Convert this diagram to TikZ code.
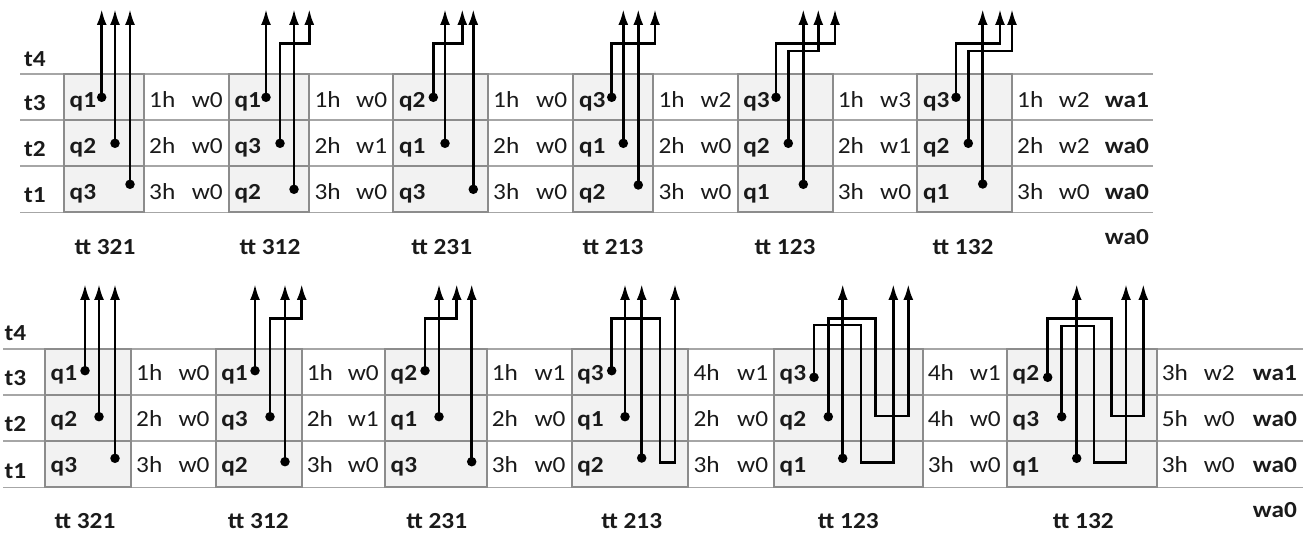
\documentclass[tikz,border=0pt]{standalone}
\usepackage{fontspec}
\setmainfont{Carlito}[FakeStretch=1.1]
\usetikzlibrary{arrows.meta}
\definecolor{boxfill}{HTML}{F2F2F2}
\definecolor{boxline}{HTML}{8C8C8C}
\definecolor{ruleline}{HTML}{A6A6A6}
\definecolor{txt}{HTML}{1A1A1A}
\newcommand\fs{\fontsize{23}{27}\selectfont}
% one box of three cells: name, left, width, top, q1, q2, q3, baseline offset
\newcommand\mkbox[8]{%
  \node[cell,minimum width=#3pt] (#1c1) at (#2,#4) {};
  \node[cell,minimum width=#3pt] (#1c2) at (#2,#4+46.1) {};
  \node[cell,minimum width=#3pt] (#1c3) at (#2,#4+92.2) {};
  \node[qlab] (#1q1) at (#2+5.5,#4+#8) {#5};
  \node[qlab] (#1q2) at (#2+5.5,#4+46.1+#8) {#6};
  \node[qlab] (#1q3) at (#2+5.5,#4+92.2+#8) {#7};
}
% one row of values: name, x of h, x of w (east), baseline, h, w
\newcommand\hw[6]{%
  \node[hlab] (#1h) at (#2,#4) {#5};
  \node[wlab] (#1w) at (#3,#4) {#6};
}
\begin{document}
\begin{tikzpicture}[x=1pt,y=-1pt,
  tabline/.style={draw=ruleline,line width=1.5pt},
  cell/.style={draw=boxline,fill=boxfill,line width=2.2pt,rectangle,anchor=north west,
    inner sep=0pt,outer sep=0pt,minimum height=46.1pt},
  qlab/.style={font=\fs\bfseries,text=txt,anchor=base west,inner sep=0pt},
  hlab/.style={font=\fs,text=txt,anchor=base west,inner sep=0pt},
  wlab/.style={font=\fs,text=txt,anchor=base east,inner sep=0pt},
  walab/.style={font=\fs\bfseries,text=txt,anchor=base east,inner sep=0pt},
  tlab/.style={font=\fs\bfseries,text=txt,anchor=base west,inner sep=0pt},
  tlabr/.style={font=\fs\bfseries,text=txt,anchor=base east,inner sep=0pt},
  captxt/.style={font=\fs\bfseries,text=txt,anchor=base,inner sep=0pt},
  dot/.style={circle,fill=black,minimum size=9.5pt,inner sep=0pt},
  conn/.style={draw=black,line width=2.7pt,line join=miter,-{Latex[length=16pt,width=10pt]}},
]
\useasboundingbox (0,0) rectangle (1303,534);
\begin{scope}
\clip (0,0) rectangle (1303,534);
%================ TOP PANEL ================
\foreach \yy in {74,120.1,166.2,212.3} \draw[tabline] (20,\yy) -- (1153,\yy);
\node[tlab] (At4) at (24,66.7) {t4};
\node[tlab] (At3) at (24,110.7) {t3};
\node[tlab] (At2) at (24,156.7) {t2};
\node[tlab] (At1) at (24,202.7) {t1};
\mkbox{A1}{64}{80}{74}{q1}{q2}{q3}{33.3}
\mkbox{A2}{228.8}{80.5}{74}{q1}{q3}{q2}{33.3}
\mkbox{A3}{393.3}{94.7}{74}{q2}{q1}{q3}{33.3}
\mkbox{A4}{573.3}{80}{74}{q3}{q1}{q2}{33.3}
\mkbox{A5}{737.7}{95}{74}{q3}{q2}{q1}{33.3}
\mkbox{A6}{917.3}{94.7}{74}{q3}{q2}{q1}{33.3}
% values
\hw{Ag1r1}{149}{223}{107.3}{1h}{w0}
\hw{Ag1r2}{149}{223}{153.3}{2h}{w0}
\hw{Ag1r3}{149}{223}{199.3}{3h}{w0}
\hw{Ag2r1}{314.3}{387.3}{107.3}{1h}{w0}
\hw{Ag2r2}{314.3}{387.3}{153.3}{2h}{w1}
\hw{Ag2r3}{314.3}{387.3}{199.3}{3h}{w0}
\hw{Ag3r1}{493}{567.3}{107.3}{1h}{w0}
\hw{Ag3r2}{493}{567.3}{153.3}{2h}{w0}
\hw{Ag3r3}{493}{567.3}{199.3}{3h}{w0}
\hw{Ag4r1}{658.3}{731.7}{107.3}{1h}{w2}
\hw{Ag4r2}{658.3}{731.7}{153.3}{2h}{w0}
\hw{Ag4r3}{658.3}{731.7}{199.3}{3h}{w0}
\hw{Ag5r1}{837.7}{911.3}{107.3}{1h}{w3}
\hw{Ag5r2}{837.7}{911.3}{153.3}{2h}{w1}
\hw{Ag5r3}{837.7}{911.3}{199.3}{3h}{w0}
\hw{Ag6r1}{1017}{1090}{107.3}{1h}{w2}
\hw{Ag6r2}{1017}{1090}{153.3}{2h}{w2}
\hw{Ag6r3}{1017}{1090}{199.3}{3h}{w0}
\node[walab] (Awa1) at (1149,107.3) {wa1};
\node[walab] (Awa2) at (1149,153.3) {wa0};
\node[walab] (Awa3) at (1149,199.3) {wa0};
\node[walab] (Awa4) at (1149,245) {wa0};
% captions
\node[captxt] (Acap1) at (105,255) {tt 321};
\node[captxt] (Acap2) at (270,255) {tt 312};
\node[captxt] (Acap3) at (441.7,255) {tt 231};
\node[captxt] (Acap4) at (613,255) {tt 213};
\node[captxt] (Acap5) at (785,255) {tt 123};
\node[captxt] (Acap6) at (963,255) {tt 132};
% dots
\node[dot] (A1d1) at (101.7,97.3) {};
\node[dot] (A1d2) at (115,143.3) {};
\node[dot] (A1d3) at (130,184.3) {};
\node[dot] (A2d1) at (266,97.3) {};
\node[dot] (A2d2) at (280,143.3) {};
\node[dot] (A2d3) at (294,189.3) {};
\node[dot] (A3d1) at (433.3,97.3) {};
\node[dot] (A3d2) at (445,143.3) {};
\node[dot] (A3d3) at (473.3,189.3) {};
\node[dot] (A4d1) at (611.7,97.3) {};
\node[dot] (A4d2) at (623.3,143.3) {};
\node[dot] (A4d3) at (638.3,185) {};
\node[dot] (A5d1) at (776,97.3) {};
\node[dot] (A5d2) at (788.3,143.3) {};
\node[dot] (A5d3) at (803.3,184.3) {};
\node[dot] (A6d1) at (956,97.3) {};
\node[dot] (A6d2) at (968.3,143.3) {};
\node[dot] (A6d3) at (982.7,184) {};
% arrow tips
\coordinate (A1t1) at (101.7,9);
\coordinate (A1t2) at (115,9);
\coordinate (A1t3) at (130,9);
\coordinate (A2t1) at (266,9);
\coordinate (A2t2) at (309.3,9);
\coordinate (A2t3) at (294,9);
\coordinate (A3t1) at (462.3,9);
\coordinate (A3t2) at (445,9);
\coordinate (A3t3) at (473.3,9);
\coordinate (A4t1) at (655,9);
\coordinate (A4t2) at (623.3,9);
\coordinate (A4t3) at (638.3,9);
\coordinate (A5t1) at (835,9);
\coordinate (A5t2) at (818.3,9);
\coordinate (A5t3) at (803.3,9);
\coordinate (A6t1) at (1000,9);
\coordinate (A6t2) at (1012,9);
\coordinate (A6t3) at (982.7,9);
% connectors
\draw[conn] (A1d1.center) -- (A1t1);
\draw[conn] (A1d2.center) -- (A1t2);
\draw[conn] (A1d3.center) -- (A1t3);
\draw[conn] (A2d1.center) -- (A2t1);
\draw[conn] (A2d2.center) |- (309.3,43.7) -- (A2t2);
\draw[conn] (A2d3.center) -- (A2t3);
\draw[conn] (A3d1.center) |- (462.3,43.7) -- (A3t1);
\draw[conn] (A3d2.center) -- (A3t2);
\draw[conn] (A3d3.center) -- (A3t3);
\draw[conn] (A4d1.center) |- (655,43.3) -- (A4t1);
\draw[conn] (A4d2.center) -- (A4t2);
\draw[conn] (A4d3.center) -- (A4t3);
\draw[conn] (A5d1.center) |- (835,43.3) -- (A5t1);
\draw[conn] (A5d2.center) |- (818.3,51) -- (A5t2);
\draw[conn] (A5d3.center) -- (A5t3);
\draw[conn] (A6d1.center) |- (1000,43.3) -- (A6t1);
\draw[conn] (A6d2.center) |- (1012,51) -- (A6t2);
\draw[conn] (A6d3.center) -- (A6t3);
%================ BOTTOM PANEL ================
\foreach \yy in {349,395.1,441.2,487.3} \draw[tabline] (3,\yy) -- (1303,\yy);
\node[tlabr] (Bt4) at (26.5,340.7) {t4};
\node[tlabr] (Bt3) at (26.5,385) {t3};
\node[tlabr] (Bt2) at (26.5,431.7) {t2};
\node[tlabr] (Bt1) at (26.5,478) {t1};
\mkbox{B1}{45}{86}{349}{q1}{q2}{q3}{31.3}
\mkbox{B2}{215.7}{86}{349}{q1}{q3}{q2}{31.3}
\mkbox{B3}{385}{101.7}{349}{q2}{q1}{q3}{31.3}
\mkbox{B4}{571.7}{116.6}{349}{q3}{q1}{q2}{31.3}
\mkbox{B5}{774}{148.7}{349}{q3}{q2}{q1}{31.3}
\mkbox{B6}{1007}{149.7}{349}{q2}{q3}{q1}{31.3}
\hw{Bg1r1}{136}{209.7}{380.3}{1h}{w0}
\hw{Bg1r2}{136}{209.7}{426.4}{2h}{w0}
\hw{Bg1r3}{136}{209.7}{472.5}{3h}{w0}
\hw{Bg2r1}{306.7}{379}{380.3}{1h}{w0}
\hw{Bg2r2}{306.7}{379}{426.4}{2h}{w1}
\hw{Bg2r3}{306.7}{379}{472.5}{3h}{w0}
\hw{Bg3r1}{491.7}{565.7}{380.3}{1h}{w1}
\hw{Bg3r2}{491.7}{565.7}{426.4}{2h}{w0}
\hw{Bg3r3}{491.7}{565.7}{472.5}{3h}{w0}
\hw{Bg4r1}{693.3}{768.3}{380.3}{4h}{w1}
\hw{Bg4r2}{693.3}{768.3}{426.4}{2h}{w0}
\hw{Bg4r3}{693.3}{768.3}{472.5}{3h}{w0}
\hw{Bg5r1}{927.7}{1001}{380.3}{4h}{w1}
\hw{Bg5r2}{927.7}{1001}{426.4}{4h}{w0}
\hw{Bg5r3}{927.7}{1001}{472.5}{3h}{w0}
\hw{Bg6r1}{1161.7}{1235}{380.3}{3h}{w2}
\hw{Bg6r2}{1161.7}{1235}{426.4}{5h}{w0}
\hw{Bg6r3}{1161.7}{1235}{472.5}{3h}{w0}
\node[walab] (Bwa1) at (1297,380.3) {wa1};
\node[walab] (Bwa2) at (1297,426.4) {wa0};
\node[walab] (Bwa3) at (1297,472.5) {wa0};
\node[walab] (Bwa4) at (1297,517) {wa0};
\node[captxt] (Bcap1) at (85,528.5) {tt 321};
\node[captxt] (Bcap2) at (258.3,528.5) {tt 312};
\node[captxt] (Bcap3) at (436.7,528.5) {tt 231};
\node[captxt] (Bcap4) at (631.7,528.5) {tt 213};
\node[captxt] (Bcap5) at (848.3,528.5) {tt 123};
\node[captxt] (Bcap6) at (1083.3,528.5) {tt 132};
% dots
\node[dot] (B1d1) at (85,370.7) {};
\node[dot] (B1d2) at (99,416.7) {};
\node[dot] (B1d3) at (115,458.3) {};
\node[dot] (B2d1) at (255,370.7) {};
\node[dot] (B2d2) at (270,416.7) {};
\node[dot] (B2d3) at (285,461.7) {};
\node[dot] (B3d1) at (425,370.7) {};
\node[dot] (B3d2) at (439,416.7) {};
\node[dot] (B3d3) at (471.7,461.7) {};
\node[dot] (B4d1) at (611.7,370.7) {};
\node[dot] (B4d2) at (625,416.7) {};
\node[dot] (B4d3) at (641.7,458) {};
\node[dot] (B5d1) at (814,377.3) {};
\node[dot] (B5d2) at (828.3,416.7) {};
\node[dot] (B5d3) at (842.7,458.3) {};
\node[dot] (B6d1) at (1047.7,377.3) {};
\node[dot] (B6d2) at (1061.7,416.7) {};
\node[dot] (B6d3) at (1076.7,458.3) {};
% tips
\coordinate (B1t1) at (85,284);
\coordinate (B1t2) at (99,284);
\coordinate (B1t3) at (115,284);
\coordinate (B2t1) at (255,284);
\coordinate (B2t2) at (301.7,284);
\coordinate (B2t3) at (285,284);
\coordinate (B3t1) at (456.7,284);
\coordinate (B3t2) at (439,284);
\coordinate (B3t3) at (471.7,284);
\coordinate (B4t1) at (675,284);
\coordinate (B4t2) at (625,284);
\coordinate (B4t3) at (641.7,284);
\coordinate (B5t1) at (893.3,284);
\coordinate (B5t2) at (908.3,284);
\coordinate (B5t3) at (842.7,284);
\coordinate (B6t1) at (1143.3,284);
\coordinate (B6t2) at (1126,284);
\coordinate (B6t3) at (1076.7,284);
% connectors
\draw[conn] (B1d1.center) -- (B1t1);
\draw[conn] (B1d2.center) -- (B1t2);
\draw[conn] (B1d3.center) -- (B1t3);
\draw[conn] (B2d1.center) -- (B2t1);
\draw[conn] (B2d2.center) |- (301.7,318.3) -- (B2t2);
\draw[conn] (B2d3.center) -- (B2t3);
\draw[conn] (B3d1.center) |- (456.7,318.3) -- (B3t1);
\draw[conn] (B3d2.center) -- (B3t2);
\draw[conn] (B3d3.center) -- (B3t3);
\draw[conn] (B4d1.center) |- (660,318.3) |- (675,462.7) -- (B4t1);
\draw[conn] (B4d2.center) -- (B4t2);
\draw[conn] (B4d3.center) -- (B4t3);
\draw[conn] (B5d1.center) |- (861,325) |- (893.3,462.7) -- (B5t1);
\draw[conn] (B5d2.center) |- (875.7,318.3) |- (908.3,416) -- (B5t2);
\draw[conn] (B5d3.center) -- (B5t3);
\draw[conn] (B6d1.center) |- (1111.7,318.3) |- (1143.3,416) -- (B6t1);
\draw[conn] (B6d2.center) |- (1094,326) |- (1126,462.7) -- (B6t2);
\draw[conn] (B6d3.center) -- (B6t3);
\end{scope}
\end{tikzpicture}
\end{document}
